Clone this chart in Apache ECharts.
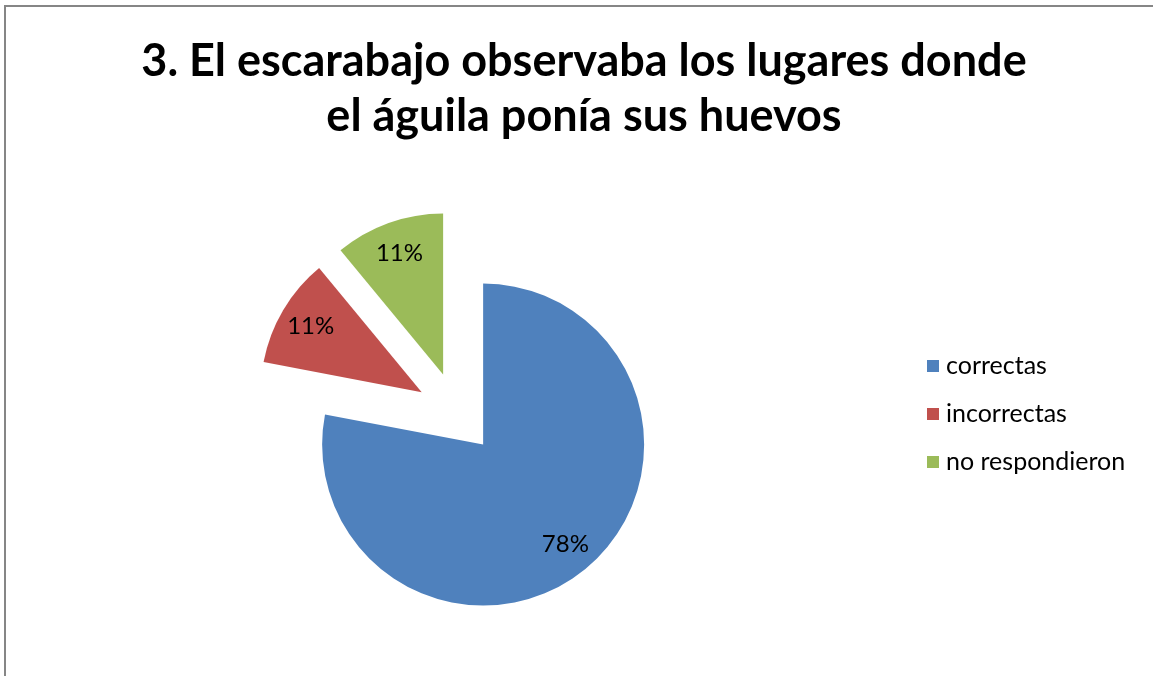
<!DOCTYPE html>
<html>
<head>
<meta charset="utf-8">
<script src="https://cdn.jsdelivr.net/npm/echarts@6/dist/echarts.min.js"></script>
<style>
html,body{margin:0;padding:0;background:#fff;}
#chart{width:1153px;height:676px;}
</style>
</head>
<body>
<div id="chart"></div>
<script>
const titleText = '3. El escarabajo observaba los lugares donde\nel águila ponía sus huevos';
const categories = ['correctas', 'incorrectas', 'no respondieron'];
const values = [78, 11, 11];
const colors = ['#4F81BD', '#C0504D', '#9BBB59'];

const chart = echarts.init(document.getElementById('chart'));
const center = [457, 413];
const baseData = categories.map((c, i) => ({ name: c, value: values[i], selected: true, itemStyle: { color: colors[i] } }));
const labelData = categories.map((c, i) => ({ name: c, value: values[i], selected: true, itemStyle: { color: 'rgba(0,0,0,0)' } }));

chart.setOption({
  animation: false,
  backgroundColor: '#ffffff',
  title: {
    text: titleText,
    left: 579,
    textAlign: 'center',
    top: 29,
    textStyle: { fontFamily: 'Lato', fontWeight: 'bold', fontSize: 45, lineHeight: 55, color: '#000' }
  },
  legend: {
    orient: 'vertical',
    left: 922,
    top: 348,
    itemWidth: 12,
    itemHeight: 12,
    itemGap: 22,
    icon: 'rect',
    data: categories,
    textStyle: { fontFamily: 'Lato', fontSize: 25, lineHeight: 26, color: '#000', padding: [0, 0, 0, 2] }
  },
  graphic: [
    { type: 'line', shape: { x1: 5, y1: 6, x2: 5, y2: 676 }, style: { stroke: '#868686', lineWidth: 2 } },
    { type: 'line', shape: { x1: 4, y1: 6, x2: 1153, y2: 6 }, style: { stroke: '#868686', lineWidth: 2 } }
  ],
  series: [
    {
      type: 'pie',
      center: center,
      radius: [0, 161],
      startAngle: 90,
      clockwise: true,
      selectedMode: 'multiple',
      selectedOffset: 41,
      label: { show: false },
      labelLine: { show: false },
      emphasis: { disabled: true },
      data: baseData
    },
    {
      type: 'pie',
      center: center,
      radius: [91, 161],
      startAngle: 90,
      clockwise: true,
      selectedMode: 'multiple',
      selectedOffset: 41,
      silent: true,
      percentPrecision: 0,
      label: { show: true, position: 'inside', formatter: '{d}%', fontFamily: 'Lato', fontSize: 24, color: '#000' },
      labelLine: { show: false },
      emphasis: { disabled: true },
      data: labelData
    }
  ]
});
</script>
</body>
</html>
